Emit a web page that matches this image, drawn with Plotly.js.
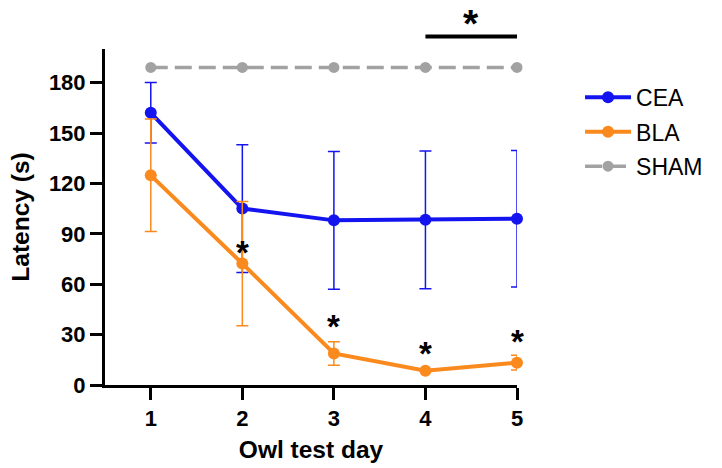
<!DOCTYPE html>
<html>
<head>
<meta charset="utf-8">
<script src="https://cdn.plot.ly/plotly-3.0.1.min.js"></script>
<style>html,body{margin:0;padding:0;background:#fff;}#chart{width:722px;height:468px;}</style>
</head>
<body>
<div id="chart"></div>
<script>
// Data
var days = [1, 2, 3, 4, 5];
var ceaMean = [162, 105, 98, 98.3, 99];
var ceaErr = [18, 38, 41, 41, 40.6];
var blaMean = [124.8, 72.3, 18.8, 8.5, 13.3];
var blaErr = [33.5, 37, 7, 0, 4.4];
var shamMean = [189, 189, 189, 189, 189];
var seriesNames = ['CEA', 'BLA', 'SHAM'];
var starX = [2, 3, 4, 5];
var starY = [82, 38, 21.8, 28.7];
var barX = [4, 5];
var barY = 207.4;
var barLabelY = 218.5;
var xTickVals = [1, 2, 3, 4, 5];
var yTickVals = [0, 30, 60, 90, 120, 150, 180];
var yRange = [0, 200];

var blue = '#1414F0';
var orange = '#FA8A1E';
var gray = '#A2A2A2';
var font = 'Liberation Sans, Arial, sans-serif';

var traces = [
  {
    x: days, y: shamMean, name: seriesNames[2], mode: 'lines+markers',
    line: {color: gray, width: 3.5, dash: '17px,7px'},
    marker: {color: gray, size: 11},
    cliponaxis: false, legendrank: 3, legendgroup: 'g3'
  },
  {
    x: days, y: ceaMean, name: seriesNames[0], mode: 'lines+markers',
    line: {color: blue, width: 4},
    marker: {color: blue, size: 12},
    error_y: {type: 'data', array: ceaErr, visible: true, color: blue, thickness: 1.5, width: 6},
    cliponaxis: false, legendrank: 1, legendgroup: 'g1'
  },
  {
    x: days, y: blaMean, name: seriesNames[1], mode: 'lines+markers',
    line: {color: orange, width: 4},
    marker: {color: orange, size: 12},
    error_y: {type: 'data', array: blaErr, visible: true, color: orange, thickness: 1.5, width: 6},
    cliponaxis: false, legendrank: 2, legendgroup: 'g2'
  }
];

var annotations = starX.map(function (x, i) {
  return {x: x, y: starY[i], xref: 'x', yref: 'y', text: '*', showarrow: false,
    xanchor: 'center', yanchor: 'middle',
    font: {family: font, size: 33, color: '#000', weight: 'bold'}, yshift: -5};
});
annotations.push({x: (barX[0] + barX[1]) / 2, y: barLabelY / yRange[1], xref: 'x', yref: 'paper', text: '*',
  showarrow: false, xanchor: 'center', yanchor: 'middle',
  font: {family: font, size: 39, color: '#000', weight: 'bold'}, yshift: -6});

var layout = {
  width: 722, height: 468,
  margin: {l: 105, r: 205, t: 49, b: 83},
  paper_bgcolor: '#fff', plot_bgcolor: '#fff',
  showlegend: true,
  legend: {
    x: 1.153, xanchor: 'left', y: 0.92, yanchor: 'top',
    traceorder: 'grouped',
    font: {family: font, size: 23, color: '#000'},
    itemwidth: 46, tracegroupgap: 1.5, bgcolor: 'rgba(0,0,0,0)'
  },
  xaxis: {
    range: [0.5, 5], tickvals: xTickVals, ticktext: xTickVals.map(String),
    showline: true, linecolor: '#000', linewidth: 3,
    ticks: 'outside', ticklen: 12, tickwidth: 3, tickcolor: '#000',
    showgrid: false, zeroline: false, fixedrange: true,
    tickfont: {family: font, size: 22, color: '#000', weight: 'bold'},
    title: {text: 'Owl test day', font: {family: font, size: 24.5, color: '#000', weight: 'bold'}, standoff: 11}
  },
  yaxis: {
    range: yRange, tickvals: yTickVals, ticktext: yTickVals.map(String),
    showline: true, linecolor: '#000', linewidth: 3,
    ticks: 'outside', ticklen: 12, tickwidth: 3, tickcolor: '#000',
    showgrid: false, zeroline: false, fixedrange: true,
    tickfont: {family: font, size: 22, color: '#000', weight: 'bold'},
    title: {text: 'Latency (s)', font: {family: font, size: 24.5, color: '#000', weight: 'bold'}, standoff: 13}
  },
  shapes: [{
    type: 'line', xref: 'x', yref: 'paper',
    x0: barX[0], x1: barX[1], y0: barY / yRange[1], y1: barY / yRange[1],
    line: {color: '#000', width: 4}
  }],
  annotations: annotations
};

Plotly.newPlot('chart', traces, layout, {displayModeBar: false, staticPlot: true});
</script>
</body>
</html>
